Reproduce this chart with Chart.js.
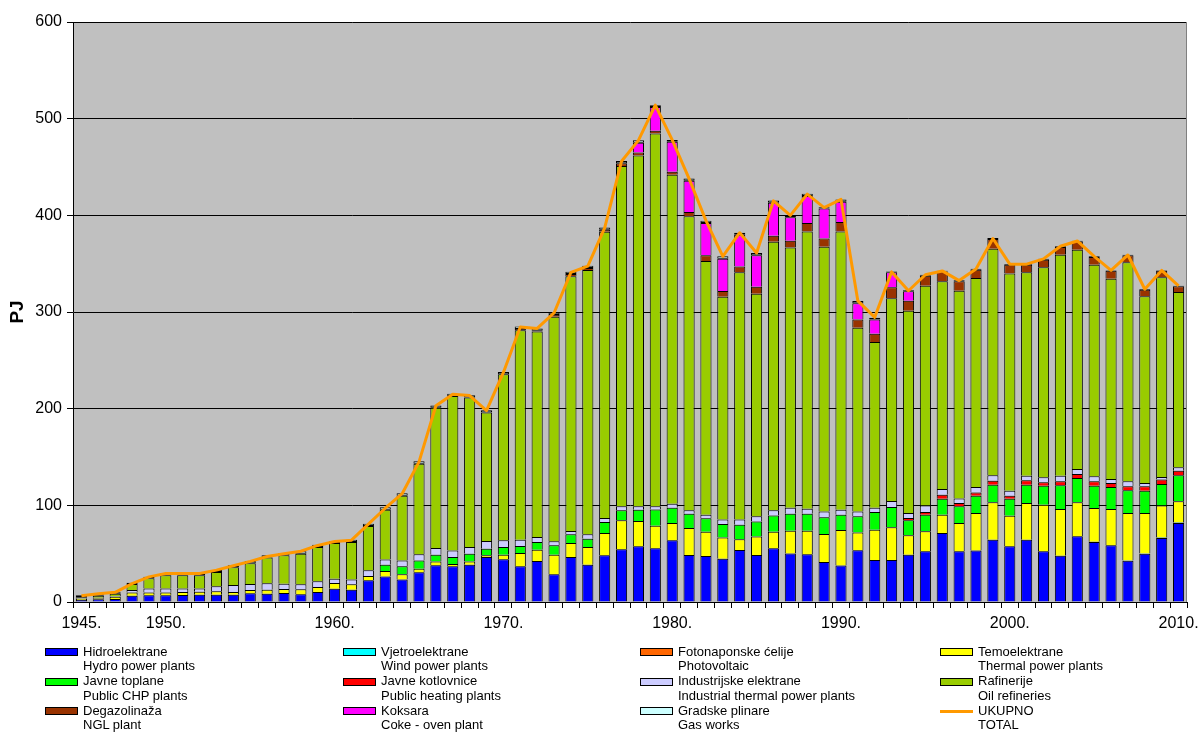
<!DOCTYPE html>
<html><head><meta charset="utf-8">
<script src="https://cdn.jsdelivr.net/npm/chart.js@4.4.1/dist/chart.umd.min.js"></script>
<style>
html,body{margin:0;padding:0;background:#fff;}
#wrap{position:relative;width:1198px;height:735px;overflow:hidden;font-family:"Liberation Sans",Arial,sans-serif;}
#c{position:absolute;left:0;top:0;}
.lg{position:absolute;font-size:13px;line-height:14.8px;color:#000;white-space:nowrap;}
.sw{position:absolute;width:31px;height:6px;border:1px solid #000;}
.ln{position:absolute;width:33px;height:3px;}
</style></head><body>
<div id="wrap"><canvas id="c" width="1198" height="645"></canvas><div id="legend"></div></div>
<script>
const years = [];
for (let y = 1945; y <= 2010; y++) years.push(y);
const shownYears = [1945, 1950, 1960, 1970, 1980, 1990, 2000, 2010];

const hydro = [2,2.8,3,6.5,6.9,6.9,7.2,7.6,7.6,7.6,9,8.6,9.3,7.9,10.3,13.8,12.8,22.4,26.5,23.4,30.7,37.9,36.9,38.6,46.6,44.1,36.9,42.4,28.6,46.6,38.6,48.3,54.5,57.6,55.6,64,48.6,47.6,44.8,53.8,48.6,55.6,50.3,49.3,41.3,37.8,53.5,43.4,43.4,49,52.4,71.4,52.4,53.4,64.5,57.6,64.5,52.4,47.9,67.9,62.1,58.6,42.8,50,66.2,81.7];
const wind = [0,0,0,0,0,0,0,0,0,0,0,0,0,0,0,0,0,0,0,0,0,0,0,0,0,0,0,0,0,0,0,0,0,0,0,0,0,0,0,0,0,0,0,0,0,0,0,0,0,0,0,0,0,0,0,0,0,0,0,0.1,0.1,0.1,0.1,0.2,0.4,0.5];
const pv = [0,0,0,0,0,0,0,0,0,0,0,0,0,0,0,0,0,0,0,0,0,0,0,0,0,0,0,0,0,0,0,0,0,0,0,0,0,0,0,0,0,0,0,0,0,0,0,0,0,0,0,0,0,0,0,0,0,0,0,0,0,0,0,0,0,0];
const thermal = [1,1.2,2.5,3.2,2.8,2.8,3.1,3.1,3.4,2.7,3.4,4.1,4.1,5.2,5.3,5.9,5.5,4.5,5.5,5.2,3.8,4.1,2.4,3.4,1.7,4.9,13.8,11.7,20.4,14.4,18.4,23.1,30,26.2,23.4,17.8,28,25.1,22,11.2,19.2,17.1,23.5,24.5,29,36.7,18.5,31.4,33.9,20,20.7,18.9,29.3,38.6,38.6,31.7,37.9,48.3,48.3,35.1,35,37.5,49.2,41.9,33.1,21.9];
const chp = [0,0,0,0,0,0,0,0,0,0,0,0,0,0,0,0,0,0,6.6,8.3,8.5,7,7.3,8,6.9,7.9,7.3,7.9,9.6,9,8.5,11.4,10.3,11.7,16.8,15.7,14.7,14,14,15,15.4,16.8,17.5,17.5,17.5,15.7,16.8,18.2,21,15.5,17.2,16.6,17.3,18,18.3,17.6,19,19.6,24.5,25.2,23.1,22.8,23.4,23.1,22.4,26.9];
const heating = [0,0,0,0,0,0,0,0,0,0,0,0,0,0,0,0,0,0,0,0,0,0,0,0,0,0,0,0,0,0,0,0,0,0,0,0,0,0,0,0,0,0,0,0,0,0,0,0,0,2.4,2.8,4.1,3.4,3.4,4.1,3.1,4.5,3.5,4.1,4.1,4.5,4.1,4.2,4.5,4.5,4.9];
const industrial = [0.5,0.5,0.5,2.7,4.3,4.3,3.7,3.3,5.2,7.3,6.2,6.8,5.6,5.2,5.8,4.4,5.1,5.9,5.4,6.1,6.3,6.9,6.8,6.9,7.9,6.9,6.5,5.2,4.2,3.4,4.5,4.1,4.2,3.5,3.2,4.2,3.5,3.5,4.5,5.3,5.6,5.3,6.3,5.2,5.9,5.3,4.9,4.6,6.2,5.1,6.6,5.9,4.6,5.6,5.5,5.2,4.8,5.2,5.9,5.2,5.2,4.1,5.1,3.4,2.7,3.4];
const refineries = [1.5,2,2.5,6.2,10.5,13.6,13.6,13.6,14.8,18.3,21.5,26.5,29.3,31.7,35.5,36.9,38.6,45.8,51.5,67,93.7,145.1,159.6,154.6,132.9,171.7,216.5,212.5,232.2,263.6,273.4,296.1,352,363,385.6,340.3,304.2,262.6,230.4,255.7,230.2,277.9,269.2,286.7,273.8,287.7,189.9,171.4,209.8,209.4,227.5,214.8,215,216.2,234.5,224.5,210.3,217.2,228.6,226.9,219,207.3,226.6,193.1,206.6,181.4];
const ngl = [0,0,0,0,0,0,0,0,0,0,0,0,0,0,0,0,0,0,0,0,0,0,0,0,0,0,1.5,1,2,2.3,2,2,2.8,3,2.8,3,4.5,5.9,6,6,7,6.3,7,8.8,8.5,9.8,8.7,8.6,11.2,10.3,10.4,10.3,9.7,8.6,10,9.3,8,7.9,7.9,8.6,7.9,8.3,7.2,6.9,6.9,5.9];
const coke = [0,0,0,0,0,0,0,0,0,0,0,0,0,0,0,0,0,0,0,0,0,0,0,0,0,0,0,0,0,0,0,0,0,10,24.6,31,32.2,33.3,33.3,33,32.7,34,24.2,28,31,21,16.7,14.7,15.5,9.7,0,0,0,0,0,0,0,0,0,0,0,0,0,0,0,0];
const gasworks = [2,1.5,1.5,1.4,1.7,2.1,2.1,2.1,2,2.1,2.3,2.3,2.4,2.4,2.4,1.8,2.5,2.4,2.5,2.4,2.5,2.4,2.5,2.3,2.3,2.5,2.4,2.3,2.3,2.3,2.4,2.4,2.5,2.6,2,2,2.5,2.4,2.7,2,2.3,2.4,2,2.4,1.4,2.4,2.5,1.7,1,1,1,0.8,1.1,1,1.1,0.7,0.7,1.1,0.8,0.7,0.7,0.3,0.7,0.7,0.3,0.6];
const total = [6.5,8.5,10,19,26,29.5,29.5,29.5,33,37.5,42,47,50,52.5,58.5,62.5,64,80.5,97,112,145,203,215,213.5,198,237.5,284.5,283,299,341,347.5,387,456,477.5,514,478,438,394.5,357.5,382,361,415,400,422,408,416.5,311.5,294.5,341.5,322,338.5,342.5,332.5,344.5,376,349.5,349.5,355,368,373.5,357.5,343,359,323.5,343,327];

const seriesNames = [
  ["Hidroelektrane","Hydro power plants"],
  ["Vjetroelektrane","Wind power plants"],
  ["Fotonaponske ćelije","Photovoltaic"],
  ["Temoelektrane","Thermal power plants"],
  ["Javne toplane","Public CHP plants"],
  ["Javne kotlovnice","Public heating plants"],
  ["Industrijske elektrane","Industrial thermal power plants"],
  ["Rafinerije","Oil refineries"],
  ["Degazolinaža","NGL plant"],
  ["Koksara","Coke - oven plant"],
  ["Gradske plinare","Gas works"],
  ["UKUPNO","TOTAL"]
];
const seriesData = [hydro, wind, pv, thermal, chp, heating, industrial, refineries, ngl, coke, gasworks];
const seriesColors = ["#0000FF","#00FFFF","#FF6600","#FFFF00","#00FF00","#FF0000","#CCCCFF","#99CC00","#993300","#FF00FF","#CCFFFF"];
const totalColor = "#FF9900";

const FONT = '"Liberation Sans", Arial, sans-serif';

const datasets = seriesData.map((d, i) => ({
  type: 'bar',
  label: seriesNames[i][0],
  data: d,
  backgroundColor: seriesColors[i],
  borderColor: '#000',
  borderWidth: 1,
  borderSkipped: i === 10 ? false : 'start',
  barPercentage: 0.66,
  categoryPercentage: 1.0,
  order: 1
}));
datasets.push({
  type: 'line',
  label: seriesNames[11][0],
  data: total,
  stack: 'total',
  borderColor: totalColor,
  borderWidth: 3,
  pointRadius: 0,
  fill: false,
  tension: 0,
  borderJoinStyle: 'round',
  order: 0
});

const bgPlugin = {
  id: 'plotbg',
  beforeDraw(chart) {
    const {ctx, chartArea: a} = chart;
    ctx.save();
    ctx.fillStyle = '#C0C0C0';
    ctx.fillRect(a.left, a.top, a.right - a.left, a.bottom - a.top);
    ctx.restore();
  },
  afterDraw(chart) {
    const {ctx, chartArea: a} = chart;
    ctx.save();
    ctx.strokeStyle = '#808080';
    ctx.lineWidth = 1;
    ctx.beginPath();
    ctx.moveTo(Math.round(a.right) - 0.5, a.top);
    ctx.lineTo(Math.round(a.right) - 0.5, a.bottom);
    ctx.stroke();
    ctx.restore();
  }
};

new Chart(document.getElementById('c'), {
  data: { labels: years, datasets },
  plugins: [bgPlugin],
  options: {
    responsive: false,
    animation: false,
    devicePixelRatio: 1,
    layout: { padding: { top: 22, right: 11, left: 0, bottom: 0 } },
    plugins: { legend: { display: false }, tooltip: { enabled: false } },
    scales: {
      x: {
        stacked: true,
        offset: true,
        grid: { offset: true, drawOnChartArea: false, drawTicks: true, tickLength: 6, color: '#000', lineWidth: 1 },
        border: { display: true, color: '#000', width: 1 },
        ticks: {
          autoSkip: false, maxRotation: 0, minRotation: 0, padding: 6, color: '#000',
          font: { family: FONT, size: 16 },
          callback: (v, i) => shownYears.includes(years[i]) ? years[i] + '.' : ''
        },
        afterFit: s => { s.height = 645 - 602; s.paddingRight = 0; s.paddingLeft = 0; }
      },
      y: {
        stacked: true,
        min: 0, max: 600,
        ticks: { stepSize: 100, padding: 5, color: '#000', font: { family: FONT, size: 16 } },
        grid: { color: '#000', tickLength: 6, lineWidth: 1 },
        border: { display: true, color: '#000', width: 1 },
        title: { display: true, text: 'PJ', color: '#000', font: { family: FONT, size: 19, weight: 'bold' }, padding: { top: 6, bottom: 0 } },
        afterFit: s => { s.width = 73; }
      }
    }
  }
});

// HTML legend (4 columns x 3 rows, two-language labels)
const legend = document.getElementById('legend');
const colX = [45, 343, 640, 940];
const rowY = [652, 681.5, 711];
seriesNames.forEach((names, i) => {
  const col = i % 4, row = Math.floor(i / 4);
  const x = colX[col], y = rowY[row];
  let sw;
  if (i < 11) {
    sw = document.createElement('div');
    sw.className = 'sw';
    sw.style.left = x + 'px';
    sw.style.top = (y - 4) + 'px';
    sw.style.background = seriesColors[i];
  } else {
    sw = document.createElement('div');
    sw.className = 'ln';
    sw.style.left = x + 'px';
    sw.style.top = (y - 1.5) + 'px';
    sw.style.background = totalColor;
  }
  legend.appendChild(sw);
  const t = document.createElement('div');
  t.className = 'lg';
  t.style.left = (x + 38) + 'px';
  t.style.top = (y - 7.4) + 'px';
  t.innerHTML = names[0] + '<br>' + names[1];
  legend.appendChild(t);
});
</script>
</body></html>
